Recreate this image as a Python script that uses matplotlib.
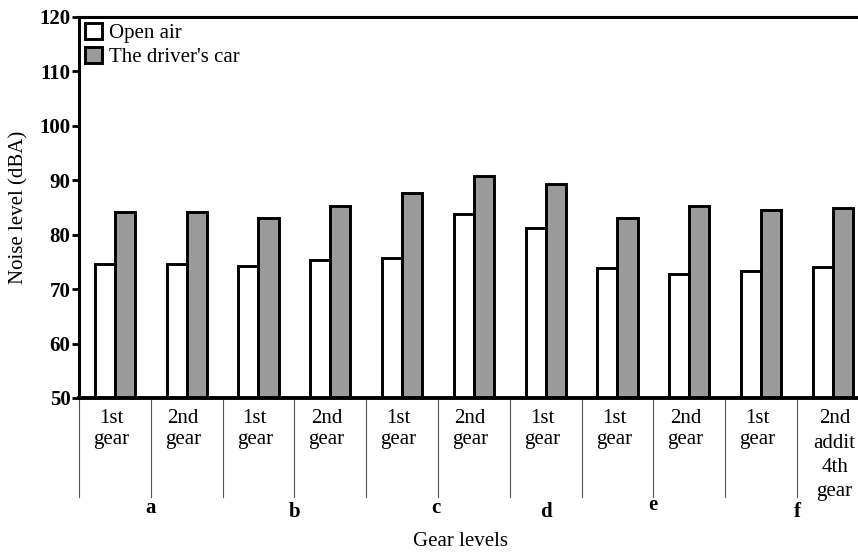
import matplotlib.pyplot as plt
import numpy as np

# values
gear_labels = ['1st\ngear', '2nd\ngear', '1st\ngear', '2nd\ngear', '1st\ngear', '2nd\ngear',
               '1st\ngear', '1st\ngear', '2nd\ngear', '1st\ngear', '2nd\naddit\n4th\ngear']
open_air = [74.6, 74.6, 74.2, 75.3, 75.8, 83.8, 81.2, 73.9, 72.8, 73.4, 74.0]
drivers_car = [84.1, 84.1, 83.1, 85.3, 87.6, 90.8, 89.4, 83.0, 85.3, 84.6, 84.9]
letters = ['a', 'b', 'c', 'd', 'e', 'f']
letter_x = [1.0, 3.0, 4.97, 6.5, 8.0, 10.0]
letter_y = [-0.29, -0.30, -0.29, -0.30, -0.28, -0.30]


def main():
    plt.rcParams['font.family'] = 'Liberation Serif'
    plt.rcParams['font.size'] = 15

    fig = plt.figure(figsize=(8.58, 5.57), dpi=100)
    ax = fig.add_axes([0.092, 0.2855, 0.908, 0.684])

    n = len(open_air)
    x = np.arange(n) + 0.5
    w = 0.28
    ax.bar(x - w / 2, np.array(open_air) - 50, w, bottom=50, color='white',
           edgecolor='black', linewidth=2.1, label='Open air')
    ax.bar(x + w / 2, np.array(drivers_car) - 50, w, bottom=50, color='#9a9a9a',
           edgecolor='black', linewidth=2.1, label="The driver's car")

    ax.set_xlim(0, 10.85)
    ax.set_ylim(50, 120)
    ax.set_yticks(np.arange(50, 121, 10))
    for lbl in ax.get_yticklabels():
        lbl.set_fontweight('bold')
    ax.tick_params(axis='y', length=5, width=2, pad=1)
    ax.set_xticks([])
    ax.spines['right'].set_visible(False)
    ax.spines['left'].set_linewidth(2.2)
    ax.spines['top'].set_linewidth(2.2)
    ax.spines['bottom'].set_linewidth(2.8)

    trans = ax.get_xaxis_transform()
    # separators under the axis
    for i in range(n):
        ax.plot([i, i], [0, -0.26], transform=trans, color='#555555', lw=0.8, clip_on=False)
    for i, lab in enumerate(gear_labels[:-1]):
        ax.text(i + 0.45, -0.03, lab, transform=trans, ha='center', va='top',
                linespacing=1.12)
    # last label sits against the right edge
    ax.text(0.997, -0.03, gear_labels[-1], transform=ax.transAxes, ha='right', va='top',
            multialignment='center', linespacing=1.38)
    for lx, ly, lt in zip(letter_x, letter_y, letters):
        ax.text(lx, ly, lt, transform=trans, ha='center', va='center', fontweight='bold')

    fig.text(460 / 858, 1 - 541 / 557, 'Gear levels', ha='center', va='center')
    fig.text(19 / 858, 1 - 207 / 557, 'Noise level (dBA)', ha='center', va='center',
             rotation=90)

    ax.legend(loc='upper left', frameon=False, handlelength=0.8, handleheight=0.8,
              handletextpad=0.35, labelspacing=0.15, borderaxespad=0.1, borderpad=0.2)

    fig.savefig('out.png', dpi=100)


if __name__ == '__main__':
    main()
